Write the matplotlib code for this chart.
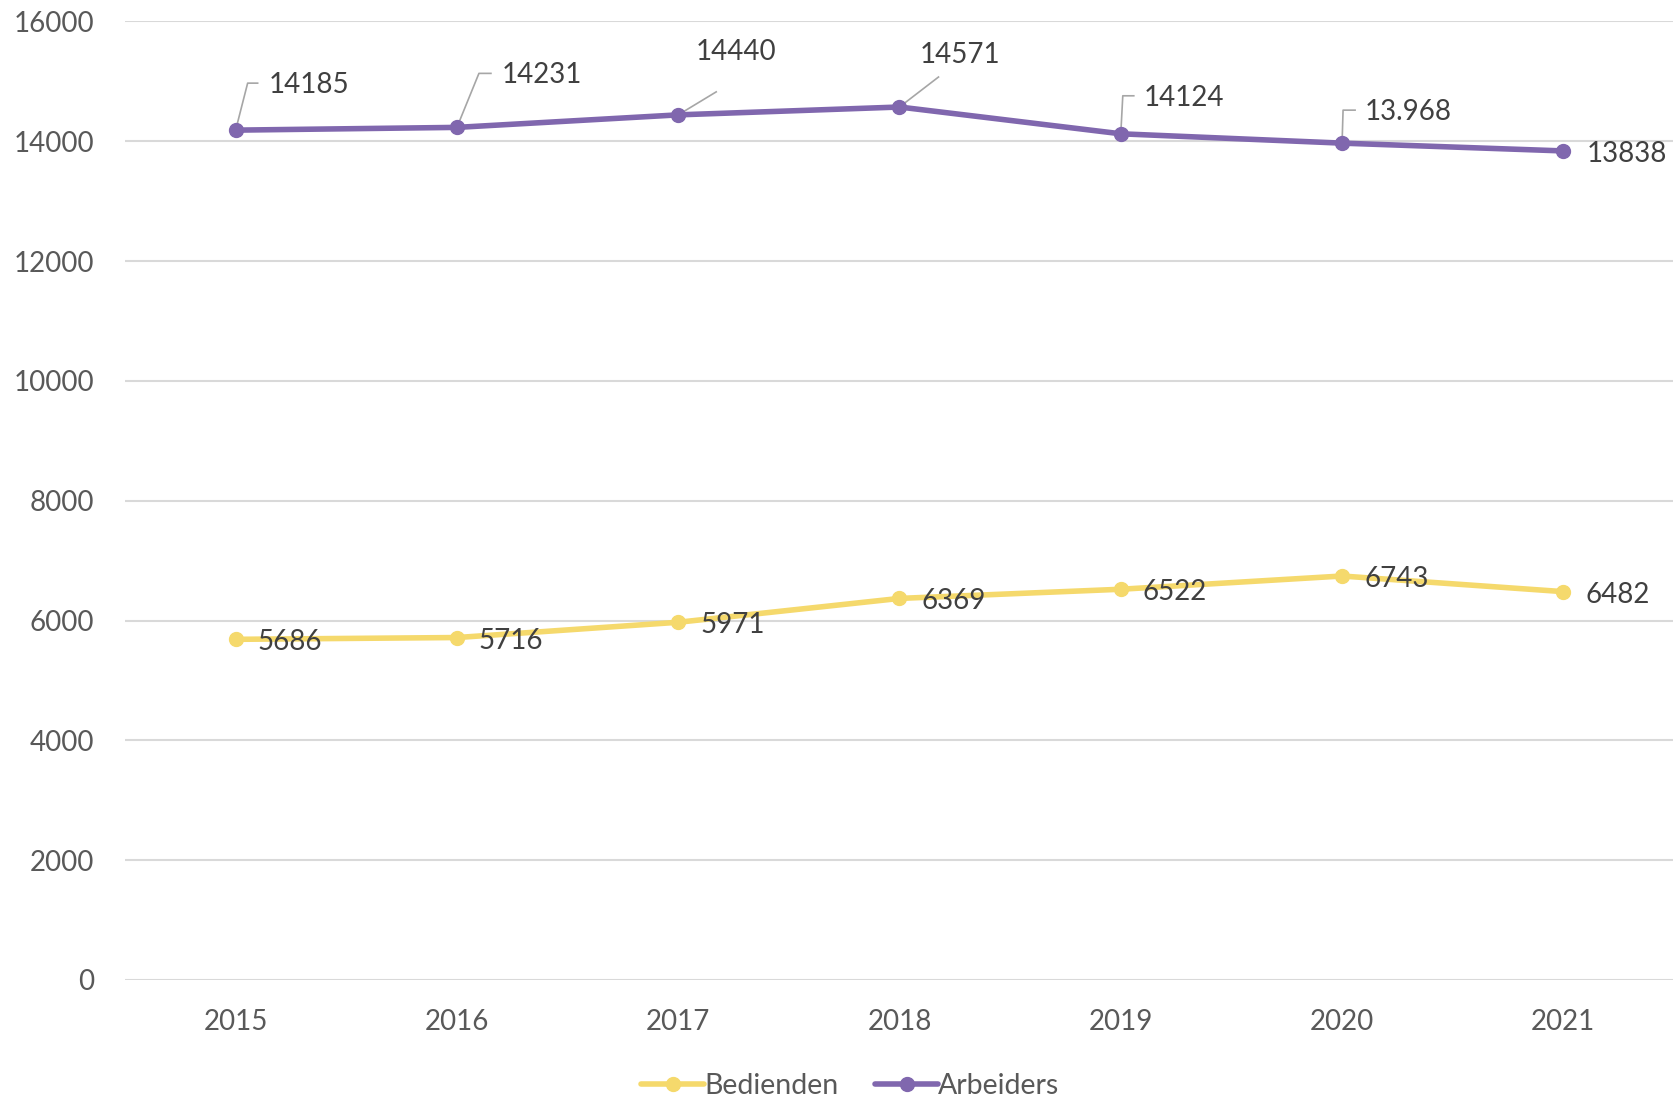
import matplotlib
matplotlib.use("Agg")
import matplotlib.pyplot as plt

matplotlib.rcParams['font.family'] = ['Lato', 'DejaVu Sans']

years = ["2015", "2016", "2017", "2018", "2019", "2020", "2021"]
bedienden = [5686, 5716, 5971, 6369, 6522, 6743, 6482]
arbeiders = [14185, 14231, 14440, 14571, 14124, 13968, 13838]
arbeiders_labels = ["14185", "14231", "14440", "14571", "14124", "13.968", "13838"]
bedienden_labels = [str(v) for v in bedienden]

PURPLE = "#8067AE"
YELLOW = "#F5D96C"
GRID = "#D9D9D9"
TICK = "#595959"
LABEL = "#404040"

# label placement in pixels relative to the point (dx, dy; dy up positive)
# leader: list of vertices (pixels) from the point, or None
arb_text = [(33, 45), (45, 52), (17, 63), (20, 52), (23, 36), (23, 31), (23, -3)]
arb_leader = [
    [(0, 0), (12, 47), (22, 47)],
    [(0, 0), (22, 54), (34, 54)],
    [(0, 0), (38, 23)],
    [(0, 0), (39, 30)],
    [(0, 0), (2, 38), (13, 38)],
    [(0, 0), (1, 33), (13, 33)],
    None,
]

W, H = 1674, 1101
fig = plt.figure(figsize=(W / 100, H / 100), dpi=100)
ax_l, ax_b, ax_t = 125 / W, 1 - 980 / H, 1 - 21.4 / H
ax = fig.add_axes([ax_l, ax_b, 1 - ax_l, ax_t - ax_b])

x = list(range(len(years)))
ax.plot(x, bedienden, color=YELLOW, lw=4, marker="o", ms=10,
        solid_capstyle="round", label="Bedienden", zorder=3)
ax.plot(x, arbeiders, color=PURPLE, lw=4, marker="o", ms=10,
        solid_capstyle="round", label="Arbeiders", zorder=3)

ax.set_xlim(-0.5, len(years) - 0.5)
ax.set_ylim(0, 16000)
ax.set_yticks(range(0, 16001, 2000))
ax.set_xticks(x)
ax.set_xticklabels(years)
ax.tick_params(length=0, labelsize=20, labelcolor=TICK)
ax.tick_params(axis="y", pad=22)
ax.tick_params(axis="x", pad=21)
ax.grid(axis="y", color=GRID, lw=1.5)
ax.set_axisbelow(True)
for s in ax.spines.values():
    s.set_visible(False)

# pixel -> data conversion (axes has fixed size)
px_x = (len(years)) / (W * (1 - ax_l))
px_y = 16000 / (H * (ax_t - ax_b))

for i, (val, lab) in enumerate(zip(arbeiders, arbeiders_labels)):
    dx, dy = arb_text[i]
    ax.text(i + dx * px_x, val + dy * px_y, lab, fontsize=20, color=LABEL,
            ha="left", va="center", zorder=4)
    if arb_leader[i]:
        xs = [i + p[0] * px_x for p in arb_leader[i]]
        ys = [val + p[1] * px_y for p in arb_leader[i]]
        ax.plot(xs, ys, color="#A6A6A6", lw=1.2, zorder=2)

for i, (val, lab) in enumerate(zip(bedienden, bedienden_labels)):
    ax.text(i + 22 * px_x, val - 3 * px_y, lab, fontsize=20, color=LABEL,
            ha="left", va="center", zorder=4)

leg = fig.legend(loc="center", bbox_to_anchor=(0.508, 0.014), ncol=2,
                 frameon=False, fontsize=20.5, handlelength=2.2,
                 handletextpad=0.0, columnspacing=1.3, labelcolor=TICK)

fig.savefig("out.png", dpi=100)
